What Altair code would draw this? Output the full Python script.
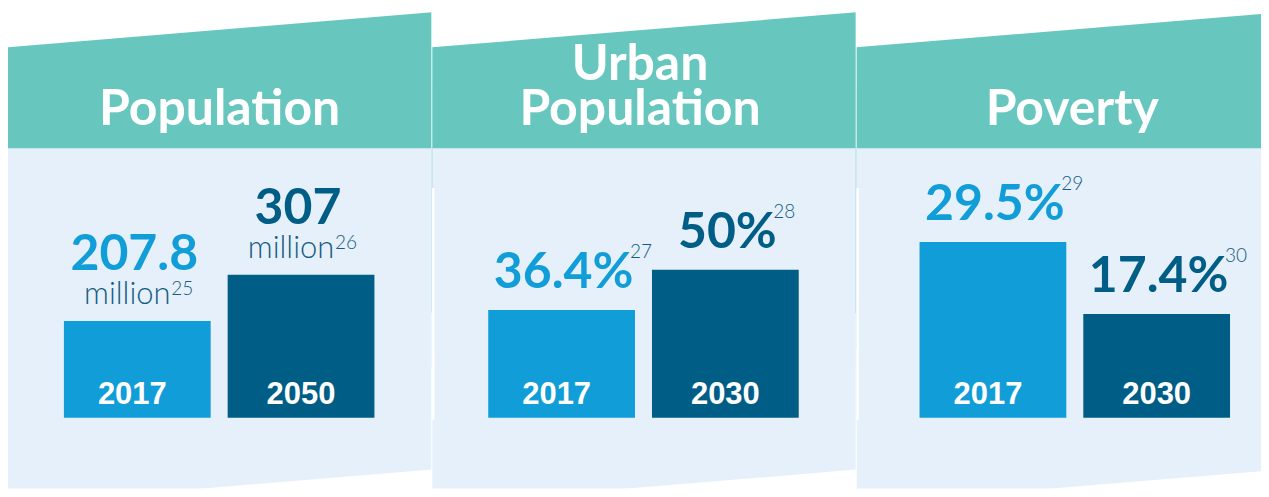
import math
import altair as alt
import pandas as pd

# ---------------- data ----------------
titles = [["Population"], ["Urban", "Population"], ["Poverty"]]
years = [["2017", "2050"], ["2017", "2030"], ["2017", "2030"]]
values = [[207.8, 307.0], [36.4, 50.0], [29.5, 17.4]]
value_labels = [["207.8", "307"], ["36.4%", "50%"], ["29.5%", "17.4%"]]
unit_labels = [["million", "million"], ["", ""], ["", ""]]
note_labels = [["25", "26"], ["27", "28"], ["29", "30"]]
slots = ["first", "second"]

# ---------------- layout / style ----------------
H = 481
PANEL_W = [424, 424, 405]
REF_W = 424
HEADER_TOP = (39, 4)        # slanted top edge, left/right (px)
HEADER_BOTTOM = 140
BODY_BOTTOM = (497, 462)    # slanted bottom edge, left/right (px)
BASE_Y = 410                # pixel row of value 0
PX_PER_UNIT = [0.4663, 2.963, 5.97]
BAR_LEFT = [56, 56, 63]
STEP, PAD_INNER = 164.0, 0.1037
TITLE_X = [212, 208, 216]
TITLE_BASE, TITLE_LEAD = 117, 45
SEP_Y = (180, 412)
YEAR_DX = [-5, 0]

TEAL = "#67C7BE"
BODY = "#E6F0FA"
LIGHT = "#119DD7"
DARK = "#005E86"
TEXT_DARK = "#135C82"

VALUE_FONT = "Lato"
YEAR_FONT = "Liberation Sans"
TITLE_SIZE, VALUE_SIZE, UNIT_SIZE, NOTE_SIZE, YEAR_SIZE = 50, 50, 31, 19, 31

BOLD_W = {**{d: 0.58 for d in "0123456789"}, ".": 0.24, "%": 0.80}
UNIT_W = {"m": 0.85, "i": 0.21, "l": 0.21, "o": 0.55, "n": 0.53}


def tw(s, table, size):
    return sum(table.get(c, 0.55) for c in s) * size


def slant(edge, x):
    return edge[0] + (edge[1] - edge[0]) * x / REF_W


def band_rule(edge, W, thick, side, color):
    """Thick rule whose top (side=+1) or bottom (side=-1) edge follows a slanted line."""
    dx_ = REF_W
    dy_ = edge[1] - edge[0]
    off = (thick / 2) * math.hypot(dx_, dy_) / dx_
    xa, xb = -40, W + 40
    ya = slant(edge, xa) + side * off
    yb = slant(edge, xb) + side * off
    return alt.Chart(pd.DataFrame({"k": [0]})).mark_rule(
        color=color, strokeWidth=thick, strokeCap="butt", clip=True).encode(
        x=alt.value(xa), x2=alt.value(xb), y=alt.value(ya), y2=alt.value(yb))


panels = []
for i in range(3):
    W = PANEL_W[i]
    layers = []

    layers.append(band_rule(BODY_BOTTOM, W, 420, -1, BODY))
    layers.append(band_rule(HEADER_TOP, W, 300, +1, TEAL))
    layers.append(alt.Chart(pd.DataFrame({"k": [0]})).mark_rect(
        color=BODY).encode(
        x=alt.value(0), x2=alt.value(W), y=alt.value(HEADER_BOTTOM),
        y2=alt.value(360)))

    if i > 0:
        layers.append(alt.Chart(pd.DataFrame({"k": [0]})).mark_rule(
            color="white", strokeWidth=2.5).encode(
            x=alt.value(1), y=alt.value(SEP_Y[0]), y2=alt.value(SEP_Y[1])))

    n = len(titles[i])
    for k, line in enumerate(titles[i]):
        layers.append(alt.Chart(pd.DataFrame({"t": [line]})).mark_text(
            font=VALUE_FONT, fontSize=TITLE_SIZE, fontWeight="bold", color="white",
            align="center", baseline="alphabetic").encode(
            x=alt.value(TITLE_X[i]),
            y=alt.value(TITLE_BASE - (n - 1 - k) * TITLE_LEAD),
            text="t:N"))

    df = pd.DataFrame({"year": years[i], "value": values[i], "slot": slots,
                       "head": value_labels[i], "unit": unit_labels[i],
                       "note": note_labels[i]})
    k_px = PX_PER_UNIT[i]
    d0 = -(H - BASE_Y) / k_px
    d1 = d0 + H / k_px
    span = STEP * (2 - PAD_INNER)
    pad_outer = (W / STEP - (2 - PAD_INNER)) / 2
    align = BAR_LEFT[i] / (W - span)
    xscale = alt.Scale(domain=years[i], paddingInner=PAD_INNER,
                       paddingOuter=pad_outer, align=align)
    xenc = alt.X("year:N", axis=None, scale=xscale)
    yscale = alt.Scale(domain=[d0, d1], nice=False, zero=False)
    yenc = alt.Y("value:Q", axis=None, scale=yscale)
    cenc = alt.Color("slot:N", legend=None,
                     scale=alt.Scale(domain=slots, range=[LIGHT, DARK]))
    base = alt.Chart(df)

    layers.append(base.mark_bar().encode(x=xenc, y=yenc, color=cenc))

    for j, slot in enumerate(slots):
        sub = base.transform_filter(alt.datum.slot == slot)
        layers.append(sub.mark_text(
            font=YEAR_FONT, fontSize=YEAR_SIZE, fontWeight="bold", color="white",
            align="center", baseline="alphabetic", dx=YEAR_DX[j]).encode(
            x=xenc, y=alt.value(BASE_Y - 14), text="year:N"))

        head = value_labels[i][j]
        unit = unit_labels[i][j]
        if unit:
            head_dy, head_dx = -51, -3
            unit_dx = -10
            note_dx = unit_dx + tw(unit, UNIT_W, UNIT_SIZE) / 2 + 1
            note_dy = -26
        else:
            head_dy, head_dx = -22, 2
            note_dx = head_dx + tw(head, BOLD_W, VALUE_SIZE) / 2 - 3
            note_dy = head_dy - 30

        layers.append(sub.mark_text(
            font=VALUE_FONT, fontSize=VALUE_SIZE, fontWeight="bold",
            align="center", baseline="alphabetic", dy=head_dy, dx=head_dx).encode(
            x=xenc, y=yenc, text="head:N", color=cenc))
        if unit:
            layers.append(sub.mark_text(
                font=VALUE_FONT, fontSize=UNIT_SIZE, fontWeight=300,
                color=TEXT_DARK, align="center", baseline="alphabetic",
                dy=-17, dx=unit_dx).encode(
                x=xenc, y=yenc, text="unit:N"))
        layers.append(sub.mark_text(
            font=VALUE_FONT, fontSize=NOTE_SIZE, fontWeight=300, color=TEXT_DARK,
            align="left", baseline="alphabetic", dy=note_dy, dx=note_dx).encode(
            x=xenc, y=yenc, text="note:N"))

    panels.append(alt.layer(*layers).properties(width=W, height=H))

chart = alt.hconcat(*panels, spacing=0).properties(
    padding=0, background="white").configure_view(stroke=None)

chart.save("out.html", embed_options={"renderer": "svg", "actions": False})
